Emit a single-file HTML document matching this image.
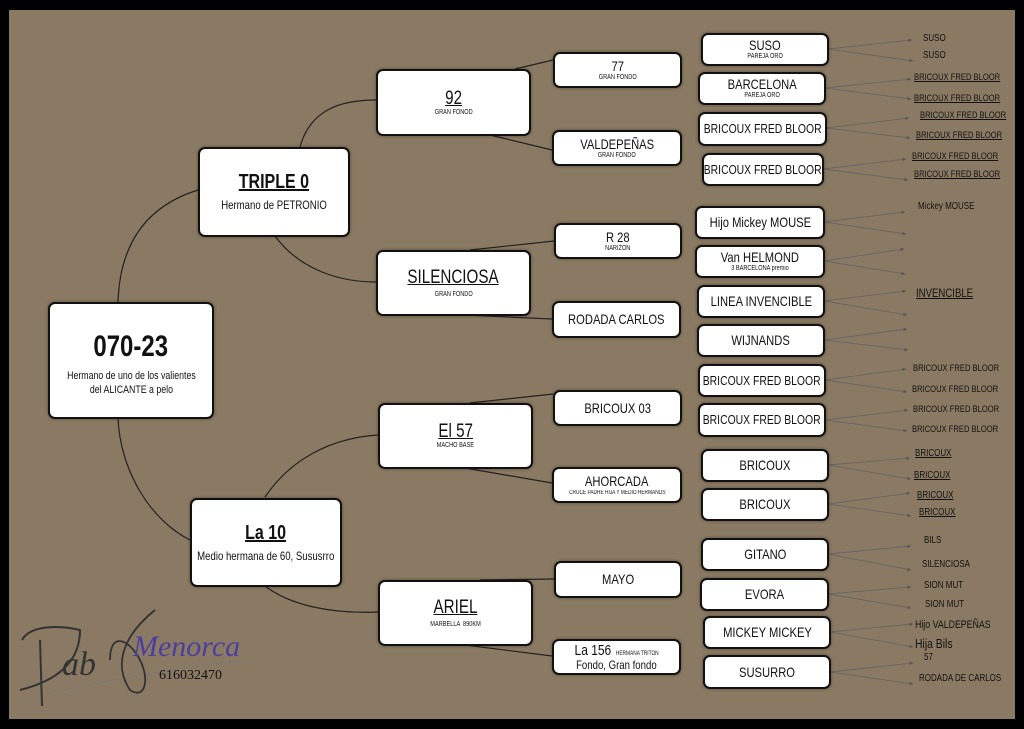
<!DOCTYPE html>
<html><head><meta charset="utf-8"><style>
*{margin:0;padding:0;box-sizing:border-box}
body{width:1024px;height:729px;background:#000;position:relative;overflow:hidden;font-family:"Liberation Sans",Arial,sans-serif;color:#111}
#bg{position:absolute;left:9px;top:10px;width:1006px;height:709px;background:#8b7a63}
.b{position:absolute;background:#fff;border:2.5px solid #111;border-radius:7px;display:flex;flex-direction:column;align-items:center;justify-content:center;text-align:center;line-height:1.05;box-shadow:0 0 3px rgba(0,0,0,.4)}
.b>div{transform:scaleX(.8);white-space:nowrap}
.t{font-size:14px}
.s{font-size:7px}
.u{text-decoration:underline}
.L{position:absolute;font-size:10px;color:#111;white-space:nowrap;transform:scaleX(.8);transform-origin:0 0}
svg{position:absolute;left:0;top:0}
</style></head><body>
<div id="bg"></div>
<svg width="1024" height="729">
<defs><marker id="a" markerWidth="5" markerHeight="5" refX="4" refY="2.5" orient="auto"><path d="M0,0.5 L4,2.5 L0,4.5z" fill="#555"/></marker></defs>
<g fill="none" stroke="#222" stroke-width="1.2">
<path d="M118,302 C120,240 150,205 198,190"/>
<path d="M300,147 C310,110 340,100 376,100"/>
<path d="M275,236 C300,270 340,282 376,282"/>
<path d="M118,418 C120,470 150,520 190,540"/>
<path d="M265,497 C290,460 330,438 378,435"/>
<path d="M265,586 C290,605 330,614 378,612"/>
<path d="M515,69 L553,60"/><path d="M490,135 L552,150"/>
<path d="M470,250 L554,241"/><path d="M465,315 L552,319"/>
<path d="M470,403 L553,394"/><path d="M465,468 L552,483"/>
<path d="M480,580 L554,579"/><path d="M465,645 L552,656"/>
</g>
<g stroke="#666" stroke-width="0.9" marker-end="url(#a)">
<line x1="828" y1="49" x2="912" y2="40"/><line x1="828" y1="49" x2="913" y2="61"/>
<line x1="825" y1="88" x2="911" y2="79"/><line x1="825" y1="88" x2="911" y2="99"/>
<line x1="826" y1="128" x2="909" y2="118"/><line x1="826" y1="128" x2="910" y2="138"/>
<line x1="823" y1="169" x2="906" y2="159"/><line x1="823" y1="169" x2="908" y2="180"/>
<line x1="824" y1="222" x2="905" y2="212"/><line x1="824" y1="222" x2="906" y2="234"/>
<line x1="824" y1="261" x2="904" y2="249"/><line x1="824" y1="261" x2="905" y2="274"/>
<line x1="824" y1="301" x2="906" y2="291"/><line x1="824" y1="301" x2="907" y2="315"/>
<line x1="824" y1="340" x2="907" y2="329"/><line x1="824" y1="340" x2="908" y2="350"/>
<line x1="825" y1="380" x2="906" y2="369"/><line x1="825" y1="380" x2="907" y2="392"/>
<line x1="825" y1="420" x2="908" y2="410"/><line x1="825" y1="420" x2="907" y2="431"/>
<line x1="828" y1="465" x2="910" y2="458"/><line x1="828" y1="465" x2="911" y2="479"/>
<line x1="828" y1="504" x2="910" y2="493"/><line x1="828" y1="504" x2="911" y2="516"/>
<line x1="828" y1="554" x2="911" y2="546"/><line x1="828" y1="554" x2="911" y2="570"/>
<line x1="828" y1="594" x2="911" y2="587"/><line x1="828" y1="594" x2="911" y2="608"/>
<line x1="830" y1="632" x2="913" y2="624"/><line x1="830" y1="632" x2="913" y2="647"/>
<line x1="830" y1="672" x2="913" y2="663"/><line x1="830" y1="672" x2="913" y2="684"/>
</g>
<path d="M48,693 C110,680 190,665 250,660" stroke="#777" fill="none" stroke-width="0.8"/>
<path d="M22,640 C30,625 60,625 80,630 C80,660 60,680 20,690 M40,640 L42,706" stroke="#333" fill="none" stroke-width="2"/>
<text x="62" y="675" font-family="Liberation Serif,serif" font-style="italic" font-size="34" fill="#333">ab</text>
<path d="M155,610 C130,630 110,660 130,690 C145,700 150,680 140,660 C130,640 110,630 110,660" stroke="#333" fill="none" stroke-width="1.8"/>
<text x="133" y="656" font-family="Liberation Serif,serif" font-style="italic" font-size="30" fill="#4a3ea0">Menorca</text>
<text x="159" y="679" font-family="Liberation Serif,serif" font-size="14" fill="#111">616032470</text>
</svg>

<div class="b" style="left:48px;top:302px;width:166px;height:117px"><div style="font-size:30px;font-weight:bold;margin-top:8px">070-23</div><div style="font-size:11px;margin-top:6px;line-height:1.3">Hermano de uno de los valientes<br>del ALICANTE a pelo</div></div>
<div class="b" style="left:198px;top:147px;width:152px;height:90px"><div class="u" style="font-size:20px;font-weight:bold">TRIPLE 0</div><div style="font-size:12px;margin-top:6px">Hermano de PETRONIO</div></div>
<div class="b" style="left:190px;top:498px;width:152px;height:89px"><div class="u" style="font-size:20px;font-weight:bold">La 10</div><div style="font-size:12px;margin-top:6px">Medio hermana de 60, Sususrro</div></div>

<div class="b" style="left:376px;top:69px;width:155px;height:67px"><div class="u" style="font-size:19px">92</div><div class="s">GRAN FONOD</div></div>
<div class="b" style="left:376px;top:250px;width:155px;height:66px"><div class="u" style="font-size:19px">SILENCIOSA</div><div class="s" style="margin-top:3px">GRAN FONDO</div></div>
<div class="b" style="left:378px;top:403px;width:155px;height:66px"><div class="u" style="font-size:19px">El 57</div><div class="s">MACHO BASE</div></div>
<div class="b" style="left:378px;top:580px;width:155px;height:66px"><div class="u" style="font-size:19px">ARIEL</div><div class="s" style="margin-top:3px">MARBELLA &nbsp;890KM</div></div>

<div class="b" style="left:553px;top:52px;width:129px;height:36px"><div class="t">77</div><div class="s">GRAN FONDO</div></div>
<div class="b" style="left:552px;top:130px;width:130px;height:36px"><div class="t">VALDEPEÑAS</div><div class="s">GRAN FONDO</div></div>
<div class="b" style="left:554px;top:223px;width:128px;height:36px"><div class="t">R 28</div><div class="s">NARIZON</div></div>
<div class="b" style="left:552px;top:301px;width:129px;height:37px"><div class="t">RODADA CARLOS</div></div>
<div class="b" style="left:553px;top:390px;width:129px;height:36px"><div class="t">BRICOUX 03</div></div>
<div class="b" style="left:552px;top:467px;width:130px;height:36px"><div class="t">AHORCADA</div><div class="s" style="font-size:6px;margin-top:2px">CRUCE PADRE HIJA Y MEDIO HERMANOS</div></div>
<div class="b" style="left:554px;top:561px;width:128px;height:37px"><div class="t">MAYO</div></div>
<div class="b" style="left:552px;top:639px;width:129px;height:36px"><div class="t" style="font-size:15px">La 156 <span style="font-size:6px">&nbsp;HERMANA TRITON</span></div><div style="font-size:12px">Fondo, Gran fondo</div></div>

<div class="b" style="left:701px;top:33px;width:128px;height:33px"><div class="t">SUSO</div><div class="s">PAREJA ORO</div></div>
<div class="b" style="left:698px;top:72px;width:128px;height:33px"><div class="t">BARCELONA</div><div class="s">PAREJA ORO</div></div>
<div class="b" style="left:698px;top:112px;width:129px;height:34px"><div class="t" style="font-size:13px">BRICOUX FRED BLOOR</div></div>
<div class="b" style="left:702px;top:153px;width:122px;height:33px"><div class="t" style="font-size:13px">BRICOUX FRED BLOOR</div></div>
<div class="b" style="left:695px;top:206px;width:130px;height:33px"><div class="t">Hijo Mickey MOUSE</div></div>
<div class="b" style="left:695px;top:245px;width:130px;height:33px"><div class="t">Van HELMOND</div><div class="s">3 BARCELONA premio</div></div>
<div class="b" style="left:697px;top:285px;width:128px;height:33px"><div class="t">LINEA INVENCIBLE</div></div>
<div class="b" style="left:697px;top:324px;width:128px;height:33px"><div class="t">WIJNANDS</div></div>
<div class="b" style="left:698px;top:364px;width:128px;height:33px"><div class="t" style="font-size:13px">BRICOUX FRED BLOOR</div></div>
<div class="b" style="left:698px;top:403px;width:128px;height:34px"><div class="t" style="font-size:13px">BRICOUX FRED BLOOR</div></div>
<div class="b" style="left:701px;top:449px;width:128px;height:33px"><div class="t">BRICOUX</div></div>
<div class="b" style="left:701px;top:488px;width:128px;height:33px"><div class="t">BRICOUX</div></div>
<div class="b" style="left:701px;top:538px;width:128px;height:33px"><div class="t">GITANO</div></div>
<div class="b" style="left:700px;top:578px;width:129px;height:33px"><div class="t">EVORA</div></div>
<div class="b" style="left:703px;top:616px;width:128px;height:33px"><div class="t">MICKEY MICKEY</div></div>
<div class="b" style="left:703px;top:655px;width:128px;height:34px"><div class="t">SUSURRO</div></div>

<div class="L" style="left:923px;top:33px">SUSO</div>
<div class="L" style="left:923px;top:50px">SUSO</div>
<div class="L u" style="left:914px;top:72px;font-size:9.5px">BRICOUX FRED BLOOR</div>
<div class="L u" style="left:914px;top:93px;font-size:9.5px">BRICOUX FRED BLOOR</div>
<div class="L u" style="left:920px;top:110px;font-size:9.5px">BRICOUX FRED BLOOR</div>
<div class="L u" style="left:916px;top:130px;font-size:9.5px">BRICOUX FRED BLOOR</div>
<div class="L u" style="left:912px;top:151px;font-size:9.5px">BRICOUX FRED BLOOR</div>
<div class="L u" style="left:914px;top:169px;font-size:9.5px">BRICOUX FRED BLOOR</div>
<div class="L" style="left:918px;top:201px;font-size:10px">Mickey MOUSE</div>
<div class="L u" style="left:916px;top:286px;font-size:12px">INVENCIBLE</div>
<div class="L" style="left:913px;top:363px;font-size:9.5px">BRICOUX FRED BLOOR</div>
<div class="L" style="left:912px;top:384px;font-size:9.5px">BRICOUX FRED BLOOR</div>
<div class="L" style="left:913px;top:404px;font-size:9.5px">BRICOUX FRED BLOOR</div>
<div class="L" style="left:912px;top:424px;font-size:9.5px">BRICOUX FRED BLOOR</div>
<div class="L u" style="left:915px;top:448px;font-size:10px">BRICOUX</div>
<div class="L u" style="left:914px;top:470px;font-size:10px">BRICOUX</div>
<div class="L u" style="left:917px;top:490px;font-size:10px">BRICOUX</div>
<div class="L u" style="left:919px;top:507px;font-size:10px">BRICOUX</div>
<div class="L" style="left:924px;top:535px;font-size:10px">BILS</div>
<div class="L" style="left:922px;top:559px;font-size:10px">SILENCIOSA</div>
<div class="L" style="left:924px;top:580px;font-size:10px">SION MUT</div>
<div class="L" style="left:925px;top:599px;font-size:10px">SION MUT</div>
<div class="L" style="left:915px;top:619px;font-size:11px">Hijo VALDEPEÑAS</div>
<div class="L" style="left:915px;top:636px;font-size:13px">Hija Bils</div>
<div class="L" style="left:924px;top:652px;font-size:10px">57</div>
<div class="L" style="left:919px;top:673px;font-size:10px">RODADA DE CARLOS</div>
</body></html>
